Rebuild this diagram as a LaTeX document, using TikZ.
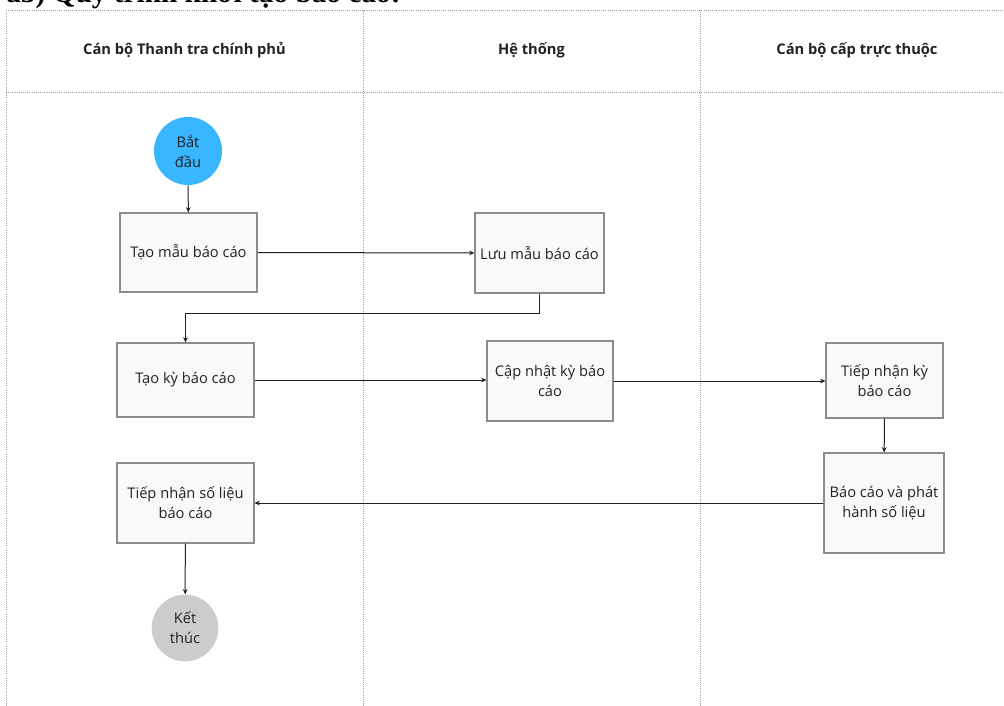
\documentclass[tikz,border=0pt]{standalone}
\usepackage{fontspec}
\setmainfont{Open Sans}
\newfontfamily\titlefont{Liberation Serif}
\usetikzlibrary{arrows.meta}
\definecolor{startblue}{HTML}{38B6FF}
\definecolor{endgray}{HTML}{CCCCCC}
\definecolor{boxgray}{HTML}{8C8C8C}
\definecolor{boxfill}{HTML}{F9F9F9}
\definecolor{ink}{HTML}{222222}

\begin{document}
\begin{tikzpicture}[x=0.75pt, y=-0.75pt,
    lane/.style={draw=gray!75, densely dotted, line width=0.6pt},
    head/.style={font=\fontsize{11}{14}\selectfont\bfseries, text=ink},
    proc/.style={draw=boxgray, fill=boxfill, line width=0.8pt, align=center,
      font=\fontsize{11}{15}\selectfont, text=ink, inner sep=0pt},
    term/.style={circle, align=center, inner sep=0pt, minimum size=51pt,
      font=\fontsize{11}{15}\selectfont, text=ink},
    flow/.style={draw=ink, line width=0.75pt, -{Stealth[length=4pt,width=3.5pt]}}]
    \clip (0,0) rectangle (1004,706);
    \fill[white] (0,0) rectangle (1004,706);
    % title, cut off at the top
    \node[anchor=base west, inner sep=0pt, font=\titlefont\fontsize{22}{26}\selectfont\bfseries] (title) at (6,3) {a3) Quy trình khởi tạo báo cáo:};
    % lanes
    \draw[lane] (6,10) -- (1004,10);
    \draw[lane] (6,92) -- (1004,92);
    \foreach \x in {6,363,700} {
      \draw[lane] (\x,10) -- (\x,706);
    }
    \node[head] (h1) at (184.5,50) {Cán bộ Thanh tra chính phủ};
    \node[head] (h2) at (531.5,50) {Hệ thống};
    \node[head] (h3) at (857,50) {Cán bộ cấp trực thuộc};
    % steps
    \node[term, fill=startblue] (start) at (188,151) {Bắt\\đầu};
    \node[proc, minimum width=102.75pt, minimum height=59.25pt] (mau) at (188.5,252.5) {Tạo mẫu báo cáo};
    \node[proc, minimum width=96.75pt, minimum height=60pt] (luu) at (539.5,253) {Lưu mẫu báo cáo};
    \node[proc, minimum width=102.75pt, minimum height=55.5pt] (ky) at (185.5,380) {Tạo kỳ báo cáo};
    \node[proc, minimum width=94.5pt, minimum height=60pt] (capnhat) at (550,381) {Cập nhật kỳ báo\\cáo};
    \node[proc, minimum width=87.75pt, minimum height=56.25pt] (tiepky) at (884.5,380.5) {Tiếp nhận kỳ\\báo cáo};
    \node[proc, minimum width=90pt, minimum height=75pt] (baocao) at (884,503) {Báo cáo và phát\\hành số liệu};
    \node[proc, minimum width=102.75pt, minimum height=60pt] (tiepsl) at (185.5,503) {Tiếp nhận số liệu\\báo cáo};
    \node[term, fill=endgray, minimum size=50pt] (end) at (185,628) {Kết\\thúc};
    % arrows
    \draw[flow] (start) -- (mau);
    \draw[flow] (mau) -- (luu);
    \draw[flow] (luu.south) -- ++(0,20) -| (ky.north);
    \draw[flow] (ky) -- (capnhat.west |- ky);
    \draw[flow] (capnhat) -- (tiepky.west |- capnhat);
    \draw[flow] (tiepky) -- (baocao);
    \draw[flow] (baocao) -- (tiepsl);
    \draw[flow] (tiepsl) -- (end);
\end{tikzpicture}
\end{document}
